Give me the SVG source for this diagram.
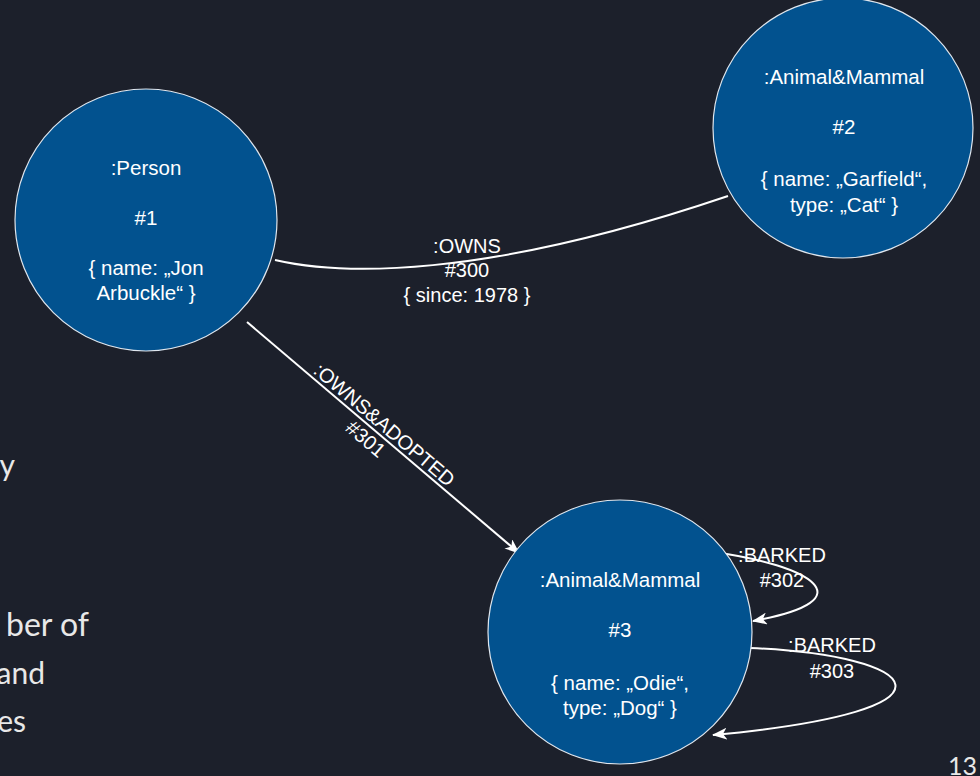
<svg xmlns="http://www.w3.org/2000/svg" width="980" height="776" viewBox="0 0 980 776">
<defs>
<style>
.bg{fill:#1c202b}
.node{fill:#02528f;stroke:#dfe6ee;stroke-width:1.2}
.nt{font-family:"Liberation Sans",Arial,sans-serif;font-size:20.5px;fill:#ffffff;text-anchor:middle}
.et{font-family:"Liberation Sans",Arial,sans-serif;font-size:20px;fill:#ffffff;text-anchor:middle}
.edge{fill:none;stroke:#ffffff;stroke-width:2}
.side{font-family:Lato,"Noto Sans",sans-serif;font-size:30px;fill:#e8e8e8;text-anchor:end}
</style>
<marker id="arr" viewBox="0 0 15 12" refX="14" refY="6" markerWidth="15" markerHeight="12" markerUnits="userSpaceOnUse" orient="auto">
<path d="M0,0 L15,6 L0,12 L4,6 z" fill="#ffffff"/>
</marker>
</defs>
<rect class="bg" x="0" y="0" width="980" height="776"/>
<g id="slide-text">
<text class="side" x="15" y="476">y</text>
<text class="side" x="89" y="636" style="font-size:32px">ber of</text>
<text class="side" x="45" y="684">and</text>
<text class="side" x="26" y="732">es</text>
<text class="side" x="977" y="775" style="font-size:25px">13</text>
</g>
<g id="connectors">
<path class="edge" d="M275,260 C340,275 480,280 728,196"/>
<path class="edge" d="M247,322 L519,553" marker-end="url(#arr)"/>
<path class="edge" d="M713,552 C810,565 870,600 753,621" marker-end="url(#arr)"/>
<path class="edge" d="M750,648 C920,655 980,710 713,735" marker-end="url(#arr)"/>
<g id="label-300">
<text class="et" x="467" y="253">:OWNS</text>
<text class="et" x="467" y="277">#300</text>
<text class="et" x="467" y="302">{ since: 1978 }</text>
</g>
<g id="label-301" transform="translate(375,431) rotate(40.4)">
<text class="et" x="3" y="-4">:OWNS&amp;ADOPTED</text>
<text class="et" x="-2" y="19">#301</text>
</g>
<g id="label-302">
<text class="et" x="782" y="562">:BARKED</text>
<text class="et" x="782" y="587">#302</text>
</g>
<g id="label-303">
<text class="et" x="832" y="652">:BARKED</text>
<text class="et" x="832" y="678">#303</text>
</g>
</g>
<g id="node-1">
<circle class="node" cx="146" cy="220" r="131"/>
<text class="nt" x="146" y="175">:Person</text>
<text class="nt" x="146" y="225">#1</text>
<text class="nt" x="146" y="275">{ name: „Jon</text>
<text class="nt" x="146" y="300">Arbuckle“ }</text>
</g>
<g id="node-2">
<circle class="node" cx="843" cy="128" r="130"/>
<text class="nt" x="844" y="84">:Animal&amp;Mammal</text>
<text class="nt" x="844" y="134">#2</text>
<text class="nt" x="844" y="186">{ name: „Garfield“,</text>
<text class="nt" x="844" y="212">type: „Cat“ }</text>
</g>
<g id="node-3">
<circle class="node" cx="620" cy="632" r="132"/>
<text class="nt" x="620" y="587">:Animal&amp;Mammal</text>
<text class="nt" x="620" y="637">#3</text>
<text class="nt" x="620" y="690">{ name: „Odie“,</text>
<text class="nt" x="620" y="715">type: „Dog“ }</text>
</g>
</svg>
